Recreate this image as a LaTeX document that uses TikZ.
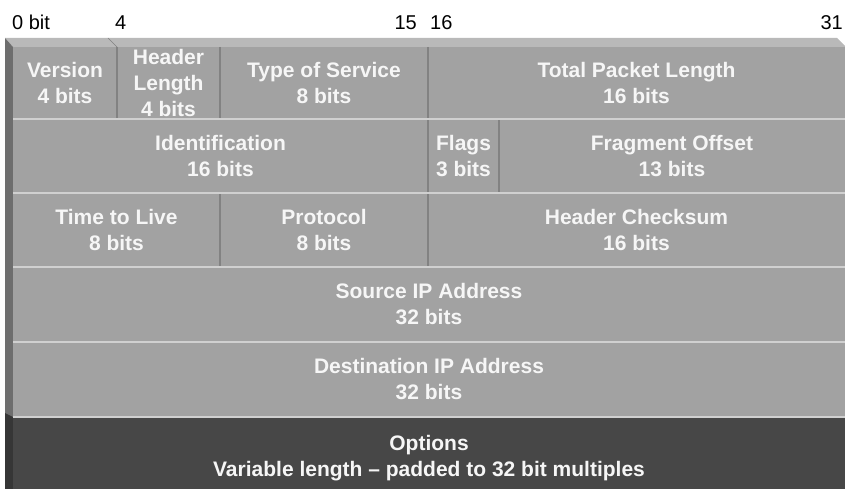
\documentclass[tikz,border=0pt]{standalone}
\usepackage{fontspec}
\setmainfont{Liberation Sans}
\usepackage{tikz}

\definecolor{cellgray}{HTML}{A2A2A2}
\definecolor{topgray}{HTML}{B9B9B9}
\definecolor{sidegray}{HTML}{6E6E6E}
\definecolor{optgray}{HTML}{474747}
\definecolor{optside}{HTML}{363636}
\definecolor{seplight}{HTML}{D0D0D0}
\definecolor{sepdark}{HTML}{828282}
\definecolor{txtwhite}{HTML}{F6F6F6}

\newcommand{\fieldfont}{\bfseries\fontsize{21}{26}\selectfont}
\newcommand{\bitfont}{\fontsize{20}{24}\selectfont}

\begin{document}
\begin{tikzpicture}[x=1pt,y=-1pt,
    field/.style={fill=cellgray,text=txtwhite,font=\fieldfont,align=center,
      inner sep=0pt,outer sep=0pt,anchor=north west},
    hsep/.style={seplight,line width=2.5pt},
    vsep/.style={sepdark,line width=2pt},
    bitnum/.style={font=\bitfont,inner sep=0pt}]
    \useasboundingbox (0,0) rectangle (845,489);

    % bit numbers
    \node[bitnum,anchor=base west] (b0) at (12,30) {0 bit};
    \node[bitnum,anchor=base west] (b4) at (115,30) {4};
    \node[bitnum,anchor=base east] (b15) at (417,30) {15};
    \node[bitnum,anchor=base west] (b16) at (430,30) {16};
    \node[bitnum,anchor=base east] (b31) at (843,30) {31};

    % bevel
    \fill[topgray] (5,38) -- (837,38) -- (845,46) -- (845,47) -- (13,47) -- cycle;
    \fill[sidegray] (5,38) -- (13,47) -- (13,417) -- (5,417) -- cycle;
    \fill[optside] (5,413) -- (13,417) -- (13,489) -- (5,489) -- cycle;
    \draw[sepdark,thin] (108,38) -- (117,47);

    % header fields
    \node[field,minimum width=104pt,minimum height=72pt] (version) at (13,47) {Version\\4 bits};
    \node[field,minimum width=103pt,minimum height=72pt] (hlen) at (117,47) {Header\\Length\\4 bits};
    \node[field,minimum width=208pt,minimum height=72pt] (tos) at (220,47) {Type of Service\\8 bits};
    \node[field,minimum width=417pt,minimum height=72pt] (totlen) at (428,47) {Total Packet Length\\16 bits};

    \node[field,minimum width=415pt,minimum height=74pt] (ident) at (13,119) {Identification\\16 bits};
    \node[field,minimum width=71pt,minimum height=74pt] (flags) at (428,119) {Flags\\3 bits};
    \node[field,minimum width=346pt,minimum height=74pt] (fragoff) at (499,119) {Fragment Offset\\13 bits};

    \node[field,minimum width=207pt,minimum height=74pt] (ttl) at (13,193) {Time to Live\\8 bits};
    \node[field,minimum width=208pt,minimum height=74pt] (proto) at (220,193) {Protocol\\8 bits};
    \node[field,minimum width=417pt,minimum height=74pt] (hchk) at (428,193) {Header Checksum\\16 bits};

    \node[field,minimum width=832pt,minimum height=75pt] (srcip) at (13,267) {Source IP Address\\32 bits};
    \node[field,minimum width=832pt,minimum height=75pt] (dstip) at (13,342) {Destination IP Address\\32 bits};

    \node[field,fill=optgray,minimum width=832pt,minimum height=72pt] (options) at (13,417) {};
    \node[field,fill=none,anchor=center] (optlabel) at ([yshift=-5pt]options.center)
      {Options\\Variable length -- padded to 32 bit multiples};

    % dividers
    \draw[vsep] (version.north east) -- (version.south east);
    \draw[vsep] (hlen.north east) -- (hlen.south east);
    \draw[vsep] (tos.north east) -- (tos.south east);
    \draw[vsep] (ident.north east) -- (ident.south east);
    \draw[vsep] (flags.north east) -- (flags.south east);
    \draw[vsep] (ttl.north east) -- (ttl.south east);
    \draw[vsep] (proto.north east) -- (proto.south east);

    \draw[hsep] (version.south west) -- (totlen.south east);
    \draw[hsep] (ident.south west) -- (fragoff.south east);
    \draw[hsep] (ttl.south west) -- (hchk.south east);
    \draw[hsep] (srcip.south west) -- (srcip.south east);
    \draw[hsep] (dstip.south west) -- (dstip.south east);
\end{tikzpicture}
\end{document}
